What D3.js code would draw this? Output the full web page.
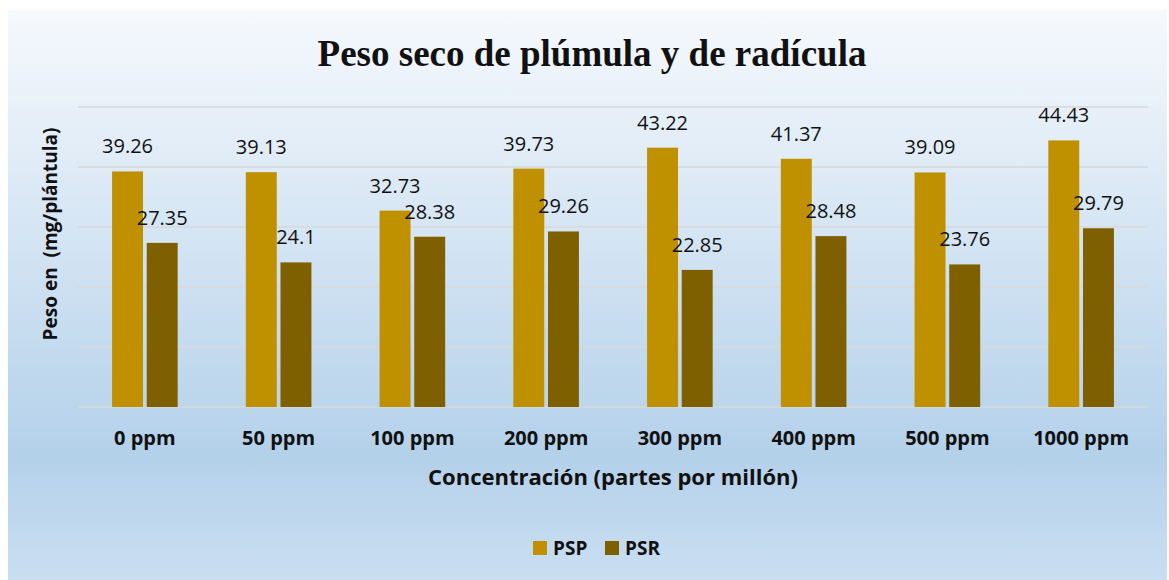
<!DOCTYPE html>
<html>
<head>
<meta charset="utf-8">
<script src="https://cdn.jsdelivr.net/npm/d3@7"></script>
<style>
  html, body { margin: 0; padding: 0; background: #fff; }
  svg { display: block; }
</style>
</head>
<body>
<div id="chart"></div>
<script>
// data
const categories = ['0 ppm', '50 ppm', '100 ppm', '200 ppm', '300 ppm', '400 ppm', '500 ppm', '1000 ppm'];
const seriesNames = ['PSP', 'PSR'];
const psp = [39.26, 39.13, 32.73, 39.73, 43.22, 41.37, 39.09, 44.43];
const psr = [27.35, 24.1, 28.38, 29.26, 22.85, 28.48, 23.76, 29.79];
const yTicks = [0, 10, 20, 30, 40, 50];

const width = 1169, height = 580;
const margin = { top: 107, right: 21, bottom: 173, left: 78 };
const color = d3.scaleOrdinal().domain(seriesNames).range(['#BF9000', '#7F6000']);

const svg = d3.select('#chart').append('svg')
  .attr('width', width)
  .attr('height', height);

// background gradient
const grad = svg.append('defs').append('linearGradient')
  .attr('id', 'bg').attr('x1', 0).attr('y1', 0).attr('x2', 0).attr('y2', 1);
grad.append('stop').attr('offset', '0%').attr('stop-color', '#f6f9fd');
grad.append('stop').attr('offset', '78%').attr('stop-color', '#b4d1ea');
grad.append('stop').attr('offset', '100%').attr('stop-color', '#cadef1');

svg.append('rect')
  .attr('x', 8).attr('y', 10)
  .attr('width', width - 10).attr('height', height - 10)
  .attr('fill', 'url(#bg)');

const innerW = width - margin.left - margin.right;
const innerH = height - margin.top - margin.bottom;

const x = d3.scaleBand().domain(categories).range([0, innerW]);
const x1 = d3.scaleBand().domain(seriesNames).range([0, 65.6]).paddingInner(0.107);
const y = d3.scaleLinear().domain([0, 50]).range([innerH, 0]);

const g = svg.append('g').attr('transform', `translate(${margin.left},${margin.top})`);

// gridlines
g.selectAll('.grid').data(yTicks)
  .join('line')
  .attr('class', 'grid')
  .attr('x1', 0).attr('x2', innerW)
  .attr('y1', d => y(d)).attr('y2', d => y(d))
  .attr('stroke', '#d9d9d9')
  .attr('stroke-width', 1.5);

const rows = categories.map((c, i) => ({ cat: c, vals: [
  { key: 'PSP', v: psp[i] },
  { key: 'PSR', v: psr[i] }
]}));

const groups = g.selectAll('.grp').data(rows)
  .join('g')
  .attr('class', 'grp')
  .attr('transform', d => `translate(${x(d.cat) + (x.bandwidth() - 65.6) / 2},0)`);

groups.selectAll('rect').data(d => d.vals)
  .join('rect')
  .attr('x', d => x1(d.key))
  .attr('y', d => y(d.v))
  .attr('width', x1.bandwidth())
  .attr('height', d => innerH - y(d.v))
  .attr('fill', d => color(d.key));

// data labels
groups.selectAll('text').data(d => d.vals)
  .join('text')
  .attr('x', d => x1(d.key) + x1.bandwidth() / 2)
  .attr('y', d => y(d.v) - 18)
  .attr('text-anchor', 'middle')
  .attr('font-family', '"Open Sans", "Noto Sans", sans-serif')
  .attr('font-size', '20px')
  .attr('fill', '#111')
  .text(d => d.v);

// category labels
g.selectAll('.cat').data(categories)
  .join('text')
  .attr('class', 'cat')
  .attr('x', d => x(d) + x.bandwidth() / 2)
  .attr('y', innerH + 38)
  .attr('text-anchor', 'middle')
  .attr('font-family', '"Open Sans", "Noto Sans", sans-serif')
  .attr('font-weight', 'bold')
  .attr('font-size', '20px')
  .attr('fill', '#111')
  .text(d => d);

// title
svg.append('text')
  .attr('x', 592).attr('y', 66)
  .attr('text-anchor', 'middle')
  .attr('font-family', '"Liberation Serif", "Times New Roman", serif')
  .attr('font-weight', 'bold')
  .attr('font-size', '37px')
  .attr('fill', '#111')
  .text('Peso seco de plúmula y de radícula');

// axis titles
svg.append('text')
  .attr('x', 613).attr('y', 485)
  .attr('text-anchor', 'middle')
  .attr('font-family', '"Open Sans", "Noto Sans", sans-serif')
  .attr('font-weight', 'bold')
  .attr('font-size', '22px')
  .attr('fill', '#111')
  .text('Concentración (partes por millón)');

svg.append('text')
  .attr('transform', 'translate(57,234) rotate(-90)')
  .attr('text-anchor', 'middle')
  .attr('font-family', '"Open Sans", "Noto Sans", sans-serif')
  .attr('font-weight', 'bold')
  .attr('font-size', '19px')
  .attr('fill', '#111')
  .attr('xml:space', 'preserve')
  .style('white-space', 'pre')
  .text('Peso en  (mg/plántula)');

// legend
const legend = svg.append('g').attr('transform', 'translate(533,541)');
const li = legend.selectAll('g').data(seriesNames)
  .join('g')
  .attr('transform', (d, i) => `translate(${i * 72},0)`);
li.append('rect')
  .attr('width', 14).attr('height', 14)
  .attr('fill', d => color(d));
li.append('text')
  .attr('x', 20).attr('y', 14)
  .attr('font-family', '"Open Sans", "Noto Sans", sans-serif')
  .attr('font-weight', 'bold')
  .attr('font-size', '19px')
  .attr('fill', '#111')
  .text(d => d);
</script>
</body>
</html>
